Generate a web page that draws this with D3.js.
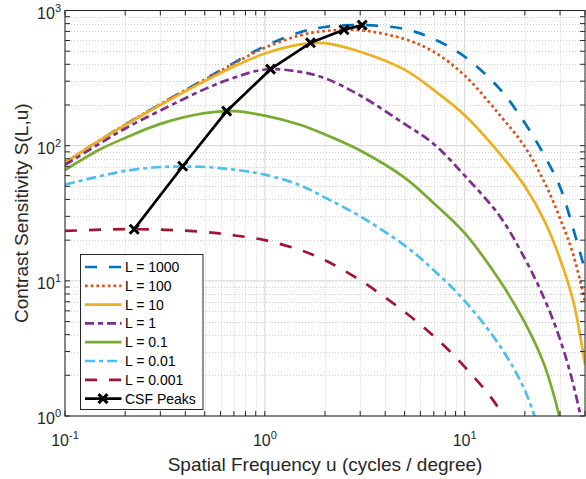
<!DOCTYPE html>
<html>
<head>
<meta charset="utf-8">
<script src="https://cdn.jsdelivr.net/npm/d3@7"></script>
<style>
body { margin: 0; background: #fff; }
svg { display: block; font-family: "Liberation Sans", Arial, Helvetica, sans-serif; }
</style>
</head>
<body>
<div id="chart-area"></div>
<script>
var freq = [0.1, 0.15, 0.2, 0.3, 0.5, 0.7, 1, 1.5, 2, 3, 5, 7, 10, 15, 20, 25, 30, 35, 40];

// contrast sensitivity per luminance, same order as freq (shorter ones leave the plot)
var sL1000  = [75, 110, 143, 203, 310, 410, 545, 690, 755, 780, 730, 615, 455, 262, 147, 85, 49.5, 24, 12];
var sL100   = [75, 110, 143, 203, 308, 405, 530, 655, 705, 715, 615, 495, 330, 168, 98, 54, 29, 15.5, 7];
var sL10    = [75, 110, 142, 200, 300, 385, 480, 561, 574, 495, 365, 258, 168, 87, 50, 28, 14.5, 7, 2.4];
var sL1     = [72, 104, 134, 182, 262, 318, 366, 352, 315, 235, 145, 103, 60, 30, 14.6, 7.4, 3.7, 1.7, 0.7];
var sL01    = [66, 94, 114, 145, 174, 180, 167, 143, 121, 92, 58, 37.5, 22.5, 10, 4.9, 2.4, 0.95, 0.3];
var sL001   = [51.5, 59.5, 65, 69.5, 69.5, 66.5, 61, 51, 41.3, 30, 18.3, 12, 7.1, 3.3, 1.55, 0.6];
var sL0001  = [23.4, 23.9, 24.1, 23.9, 23, 21.7, 20, 16.9, 14.2, 10.1, 5.9, 3.9, 2.31, 1.1, 0.4];

var seriesNames = ["L = 1000", "L = 100", "L = 10", "L = 1", "L = 0.1", "L = 0.01", "L = 0.001"];
var seriesValues = [sL1000, sL100, sL10, sL1, sL01, sL001, sL0001];

// peak of each curve
var peakFreq = [0.222, 0.388, 0.644, 1.068, 1.692, 2.49, 3.07];
var peakSens = [24.1, 70.4, 180, 368, 577, 720, 779];

var xTicks = [0.1, 1, 10];
var xTickExp = ["-1", "0", "1"];
var yTicks = [1, 10, 100, 1000];
var yTickExp = ["0", "1", "2", "3"];

// look of each line
var colors = ["#0072BD", "#D95319", "#EDB120", "#7E2F8E", "#77AC30", "#4DBEEE", "#A2142F"];
var dashes = ["12,12", "2.7,3", null, "9,4,5,4", null, "10,4,4,4", "12,12"];

var width = 586, height = 479;
var pL = 65, pR = 585, pT = 10.5, pB = 416;
var axisColor = "#262626";

var svg = d3.select("#chart-area").append("svg")
    .attr("width", width)
    .attr("height", height);

var x = d3.scaleLog().domain([0.1, 40]).range([pL, pR]);
var y = d3.scaleLog().domain([1, 1000]).range([pB, pT]);

var xAll = x.ticks();   // 0.1..0.9, 1..9, 10..40
var yAll = y.ticks();
function isMajor(v){
    var l = Math.log10(v);
    return Math.abs(l - Math.round(l)) < 1e-9;
}
var xMinor = xAll.filter(function(v){ return !isMajor(v); });
var yMinor = yAll.filter(function(v){ return !isMajor(v); });

// minor grid
var grid = svg.append("g");
grid.selectAll(".gxm").data(xMinor).enter().append("line")
    .attr("x1", function(d){ return Math.round(x(d)) + 0.5; })
    .attr("x2", function(d){ return Math.round(x(d)) + 0.5; })
    .attr("y1", pT).attr("y2", pB)
    .attr("stroke", "#cccccc").attr("stroke-width", 1)
    .attr("stroke-dasharray", "1,2");
grid.selectAll(".gym").data(yMinor).enter().append("line")
    .attr("y1", function(d){ return Math.round(y(d)) + 0.5; })
    .attr("y2", function(d){ return Math.round(y(d)) + 0.5; })
    .attr("x1", pL).attr("x2", pR)
    .attr("stroke", "#cccccc").attr("stroke-width", 1)
    .attr("stroke-dasharray", "1,2");
// major grid
grid.selectAll(".gx").data(xTicks).enter().append("line")
    .attr("x1", function(d){ return x(d); })
    .attr("x2", function(d){ return x(d); })
    .attr("y1", pT).attr("y2", pB)
    .attr("stroke", "#dcdcdc").attr("stroke-width", 1.3);
grid.selectAll(".gy").data(yTicks).enter().append("line")
    .attr("y1", function(d){ return y(d); })
    .attr("y2", function(d){ return y(d); })
    .attr("x1", pL).attr("x2", pR)
    .attr("stroke", "#dcdcdc").attr("stroke-width", 1.3);

// clip
svg.append("clipPath").attr("id", "plotclip")
    .append("rect")
    .attr("x", pL).attr("y", pT)
    .attr("width", pR - pL).attr("height", pB - pT);

var line = d3.line()
    .x(function(d){ return x(d[0]); })
    .y(function(d){ return y(d[1]); })
    .curve(d3.curveCatmullRom.alpha(0.5));

var plot = svg.append("g").attr("clip-path", "url(#plotclip)");

seriesValues.forEach(function(vals, i){
    var pts = vals.map(function(v, j){ return [freq[j], v]; });
    plot.append("path")
        .attr("d", line(pts))
        .attr("fill", "none")
        .attr("stroke", colors[i])
        .attr("stroke-width", 2.7)
        .attr("stroke-dasharray", dashes[i])
        .attr("stroke-linejoin", "round");
});

// CSF peaks
var peaks = peakFreq.map(function(f, i){ return [f, peakSens[i]]; });
plot.append("path")
    .attr("d", d3.line().x(function(d){ return x(d[0]); }).y(function(d){ return y(d[1]); })(peaks))
    .attr("fill", "none")
    .attr("stroke", "#000")
    .attr("stroke-width", 2.7)
    .attr("stroke-linejoin", "round");

var cross = "M-4.5,-4.5L4.5,4.5M-4.5,4.5L4.5,-4.5";
plot.selectAll(".marker").data(peaks).enter().append("path")
    .attr("d", cross)
    .attr("transform", function(d){ return "translate(" + x(d[0]) + "," + y(d[1]) + ")"; })
    .attr("stroke", "#000")
    .attr("stroke-width", 3)
    .attr("fill", "none");

// axes box and ticks
var ax = svg.append("g").attr("stroke", axisColor).attr("stroke-width", 1).attr("fill", "none");
ax.append("rect")
    .attr("x", pL).attr("y", pT)
    .attr("width", pR - pL).attr("height", pB - pT);

var tl = 5;
ax.selectAll(".xtb").data(xAll).enter().append("line")
    .attr("x1", function(d){ return x(d); }).attr("x2", function(d){ return x(d); })
    .attr("y1", pB).attr("y2", pB - tl);
ax.selectAll(".xtt").data(xAll).enter().append("line")
    .attr("x1", function(d){ return x(d); }).attr("x2", function(d){ return x(d); })
    .attr("y1", pT).attr("y2", pT + tl);
ax.selectAll(".ytl").data(yAll).enter().append("line")
    .attr("y1", function(d){ return y(d); }).attr("y2", function(d){ return y(d); })
    .attr("x1", pL).attr("x2", pL + tl);
ax.selectAll(".ytr").data(yAll).enter().append("line")
    .attr("y1", function(d){ return y(d); }).attr("y2", function(d){ return y(d); })
    .attr("x1", pR).attr("x2", pR - tl);

// tick labels
svg.selectAll(".xlab").data(xTicks).enter().append("text")
    .attr("x", function(d){ return x(d); })
    .attr("y", 446)
    .attr("text-anchor", "middle")
    .attr("font-size", 16)
    .attr("fill", axisColor)
    .each(function(d, i){
        var t = d3.select(this);
        t.append("tspan").text("10");
        t.append("tspan").attr("dy", -7).attr("font-size", 11).text(xTickExp[i]);
    });

svg.selectAll(".ylab").data(yTicks).enter().append("text")
    .attr("x", 61)
    .attr("y", function(d){ return y(d) + 8; })
    .attr("text-anchor", "end")
    .attr("font-size", 16)
    .attr("fill", axisColor)
    .each(function(d, i){
        var t = d3.select(this);
        t.append("tspan").text("10");
        t.append("tspan").attr("dy", -7).attr("font-size", 11).text(yTickExp[i]);
    });

// axis labels
svg.append("text")
    .attr("x", (pL + pR) / 2)
    .attr("y", 471)
    .attr("text-anchor", "middle")
    .attr("font-size", 19)
    .attr("fill", axisColor)
    .text("Spatial Frequency u (cycles / degree)");

svg.append("text")
    .attr("transform", "translate(28," + ((pT + pB) / 2) + ") rotate(-90)")
    .attr("text-anchor", "middle")
    .attr("font-size", 19)
    .attr("fill", axisColor)
    .text("Contrast Sensitivity S(L,u)");

// legend
var legend = svg.append("g");
legend.append("rect")
    .attr("x", 80.5).attr("y", 254.5)
    .attr("width", 122.5).attr("height", 155)
    .attr("fill", "#fff")
    .attr("stroke", axisColor)
    .attr("stroke-width", 1);

var legendNames = seriesNames.concat(["CSF Peaks"]);
var rowY = function(i){ return 267 + i * 18.8; };
legendNames.forEach(function(name, i){
    var g = legend.append("g");
    g.append("line")
        .attr("x1", 85).attr("x2", 121.5)
        .attr("y1", rowY(i)).attr("y2", rowY(i))
        .attr("stroke", i < 7 ? colors[i] : "#000")
        .attr("stroke-width", 2.7)
        .attr("stroke-dasharray", i < 7 ? dashes[i] : null);
    if (i == 7) {
        g.append("path")
            .attr("d", cross)
            .attr("transform", "translate(103," + rowY(i) + ")")
            .attr("stroke", "#000").attr("stroke-width", 3);
    }
    g.append("text")
        .attr("x", 125)
        .attr("y", rowY(i))
        .attr("dy", "0.36em")
        .attr("font-size", 14)
        .attr("fill", "#000")
        .text(name);
});
</script>
</body>
</html>
